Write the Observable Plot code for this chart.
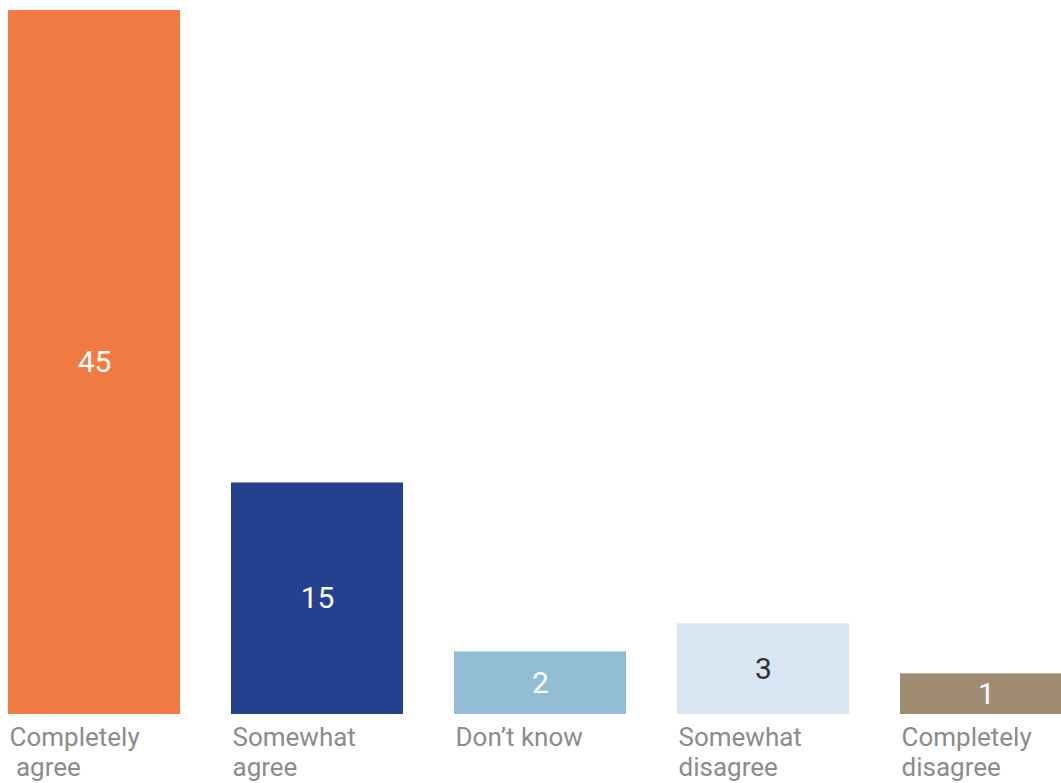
<!DOCTYPE html>
<html><head><meta charset="utf-8">
<script src="https://cdn.jsdelivr.net/npm/d3@7"></script>
<script src="https://cdn.jsdelivr.net/npm/@observablehq/plot@0.6"></script>
<style>html,body{margin:0;padding:0;background:#fff} svg{display:block}</style>
</head><body><div id="chart"></div>
<script>
// Categories (label text as shown, line breaks included)
const categories = ["Completely\n\u00a0agree", "Somewhat\nagree", "Don’t know", "Somewhat\ndisagree", "Completely\ndisagree"];
// Printed values on the bars
const valueLabels = [45, 15, 2, 3, 1];
// Bar lengths as drawn in the picture (same units as the labels)
const barLengths = [45, 14.8, 4.0, 5.8, 2.6];
// Colours
const palette = ["#F07B43", "#25408F", "#92BDD4", "#D9E7F4", "#A08D71"];
const labelInk = ["#ffffff", "#ffffff", "#ffffff", "#333333", "#ffffff"];

const rows = categories.map((c, i) => ({
  category: c, value: valueLabels[i], length: barLengths[i], color: palette[i], ink: labelInk[i]
}));

const chart = Plot.plot({
  width: 1061,
  height: 783,
  margin: 0,
  style: {background: "#fff", fontFamily: "Roboto, sans-serif"},
  x: {type: "band", domain: categories, range: [8, 1072], paddingInner: 0.2287, paddingOuter: 0, align: 0, axis: null},
  y: {domain: [0, 45], range: [714, 10], axis: null},
  color: {type: "identity"},
  marks: [
    Plot.barY(rows, {x: "category", y: "length", fill: "color"}),
    Plot.text(rows, {x: "category", y: d => d.length / 2, text: d => String(d.value), fill: "ink",
      fontSize: 30, fontFamily: "Roboto, sans-serif"}),
    Plot.text(rows, {x: "category", y: 0, text: "category", textAnchor: "start", lineAnchor: "top",
      dx: -85, dy: 10, fontSize: 26, lineHeight: 1.15, fill: "#8c8c8c", fontFamily: "Roboto, sans-serif"})
  ]
});
document.getElementById("chart").appendChild(chart);
</script>
</body></html>
